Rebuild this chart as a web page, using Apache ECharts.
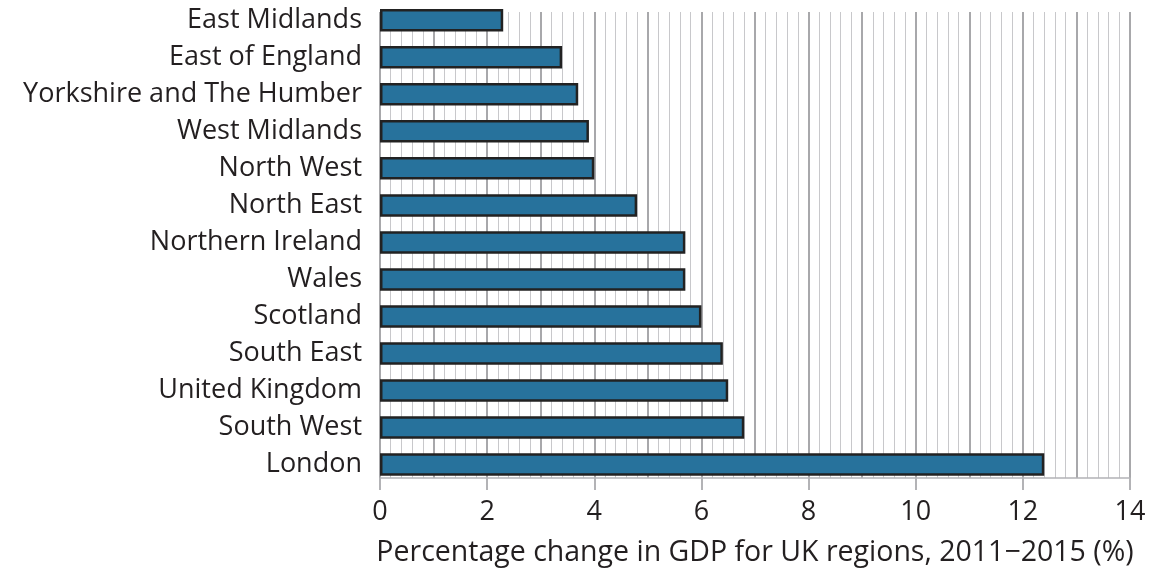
<!DOCTYPE html>
<html><head><meta charset="utf-8">
<script src="https://cdn.jsdelivr.net/npm/echarts@6/dist/echarts.min.js"></script>
<style>html,body{margin:0;padding:0;background:#fff}#c{width:1155px;height:575px}</style>
</head><body><div id="c"></div>
<script>
const categories = ["East Midlands","East of England","Yorkshire and The Humber","West Midlands","North West","North East","Northern Ireland","Wales","Scotland","South East","United Kingdom","South West","London"];
const values = [2.3,3.4,3.7,3.9,4.0,4.8,5.7,5.7,6.0,6.4,6.5,6.8,12.4];
const xTickLabels = [0,2,4,6,8,10,12,14];
const axisTitle = "Percentage change in GDP for UK regions, 2011\u22122015 (%)";

const font = "'Open Sans', 'Noto Sans', sans-serif";
const chart = echarts.init(document.getElementById('c'));
chart.setOption({
  animation:false,
  grid:[
    {left:380,right:25,top:12,bottom:97,containLabel:false,outerBoundsMode:'none'},
    {left:380,right:25,top:1.8,bottom:92,containLabel:false,outerBoundsMode:'none'}
  ],
  xAxis:[
    {gridIndex:0,type:'value',min:0,max:14,interval:1,
     axisLine:{show:false},axisTick:{show:false},axisLabel:{show:false},
     splitLine:{show:true,lineStyle:{color:'#a8a8ab',width:2}},
     minorTick:{show:false,splitNumber:5},
     minorSplitLine:{show:true,lineStyle:{color:'#c8c8cb',width:1}}},
    {gridIndex:0,type:'value',min:0,max:14,interval:2,position:'bottom',
     axisLine:{show:true,lineStyle:{color:'#b3b3b6',width:1.5}},
     axisTick:{show:true,length:12,lineStyle:{color:'#b3b3b6',width:2}},
     axisLabel:{color:'#231f20',fontSize:27,fontFamily:font,margin:21,
       formatter:v=>xTickLabels.includes(v)?String(v):''},
     splitLine:{show:false},
     name:axisTitle,nameLocation:'middle',nameGap:60,
     nameTextStyle:{color:'#231f20',fontSize:28.5,fontFamily:font}},
    {gridIndex:1,type:'value',min:0,max:14,show:false,splitLine:{show:false}}
  ],
  yAxis:[
    {gridIndex:0,type:'category',data:categories,inverse:true,show:false},
    {gridIndex:1,type:'category',data:categories,inverse:true,
     axisLine:{show:false},axisTick:{show:false},splitLine:{show:false},
     axisLabel:{color:'#231f20',fontSize:27,fontFamily:font,margin:18}}
  ],
  series:[{
    type:'bar',xAxisIndex:2,yAxisIndex:1,data:values,barWidth:22.5,
    itemStyle:{color:'#27729c',borderColor:'#222222',borderWidth:2.5}
  }]
});
</script></body></html>
